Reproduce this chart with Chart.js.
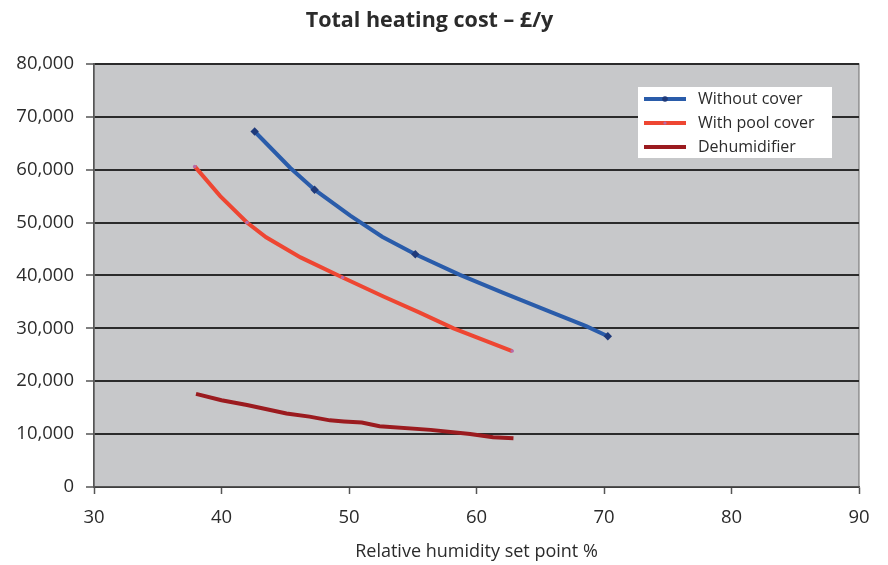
<!DOCTYPE html>
<html>
<head>
<meta charset="utf-8">
<script src="https://cdn.jsdelivr.net/npm/chart.js@4.4.1/dist/chart.umd.min.js"></script>
<style>
  html, body { margin: 0; padding: 0; background: #fff; }
  #wrap { width: 888px; height: 565px; }
</style>
</head>
<body>
<div id="wrap"><canvas id="heatChart" width="888" height="565"></canvas></div>
<script>
// Relative humidity set point % (x) and total heating cost £/y (y)
const withoutCoverX = [42.6, 45.4, 47.3, 50.1, 52.6, 55.2, 58.7, 62.1, 65.8, 68.6, 70.3];
const withoutCoverY = [67200, 60300, 56200, 51300, 47300, 44000, 40100, 36700, 33100, 30400, 28500];

const poolCoverX = [37.9, 39.9, 42.0, 43.5, 46.2, 49.5, 52.7, 55.5, 58.2, 62.8];
const poolCoverY = [60600, 55000, 50000, 47200, 43400, 39600, 36000, 33000, 30000, 25700];

const dehumX = [38.0, 40.0, 42.0, 45.1, 46.9, 48.5, 49.6, 51.0, 52.4, 56.4, 59.5, 61.3, 62.9];
const dehumY = [17600, 16400, 15500, 13900, 13300, 12600, 12400, 12200, 11500, 10800, 10000, 9400, 9200];

const seriesNames = ['Without cover', 'With pool cover', 'Dehumidifier'];
const xTicks = [30, 40, 50, 60, 70, 80, 90];
const yTicks = [0, 10000, 20000, 30000, 40000, 50000, 60000, 70000, 80000];

const FONT = "'Open Sans', 'Noto Sans', sans-serif";

function toPoints(xs, ys) {
    return xs.map((x, i) => ({ x: x, y: ys[i] }));
}

// markers only show on a few of the points, like the original
function markAt(indexes, r) {
    return ctx => indexes.includes(ctx.dataIndex) ? r : 0;
}

// grey plot background + frame
const plotBackground = {
    id: 'plotBackground',
    beforeDraw(chart) {
        const { ctx, chartArea: a } = chart;
        ctx.save();
        ctx.fillStyle = '#c7c8ca';
        ctx.fillRect(a.left, a.top, a.right - a.left, a.bottom - a.top);
        ctx.strokeStyle = '#6a6a6a';
        ctx.lineWidth = 1;
        ctx.strokeRect(a.left, a.top, a.right - a.left, a.bottom - a.top);
        ctx.restore();
    }
};

// legend box inside the plot, top right
const boxLegend = {
    id: 'boxLegend',
    afterDraw(chart) {
        const { ctx } = chart;
        const left = 638, top = 87, w = 194, h = 71;
        ctx.save();
        ctx.fillStyle = '#ffffff';
        ctx.fillRect(left, top, w, h);
        chart.data.datasets.forEach((ds, i) => {
            const y = top + 12 + i * 24;
            ctx.strokeStyle = ds.borderColor;
            ctx.lineWidth = 4;
            ctx.beginPath();
            ctx.moveTo(left + 6, y);
            ctx.lineTo(left + 48, y);
            ctx.stroke();
            if (ds.legendDot) {
                ctx.fillStyle = ds.legendDot;
                ctx.beginPath();
                ctx.arc(left + 27, y, i === 0 ? 2.8 : 1.6, 0, Math.PI * 2);
                ctx.fill();
            }
            ctx.fillStyle = '#2b2b2b';
            ctx.font = '16px ' + FONT;
            ctx.textBaseline = 'middle';
            ctx.fillText(ds.label, left + 60, y);
        });
        ctx.restore();
    }
};

new Chart(document.getElementById('heatChart').getContext('2d'), {
    type: 'line',
    data: {
        datasets: [{
            label: seriesNames[0],
            data: toPoints(withoutCoverX, withoutCoverY),
            borderColor: '#2a5caa',
            borderWidth: 4,
            pointRadius: markAt([0, 2, 5, 10], 4.2),
            pointStyle: 'rectRot',
            pointBackgroundColor: '#1f3a7a',
            pointBorderColor: '#1f3a7a',
            pointBorderWidth: 0,
            legendDot: '#1f3a7a',
            tension: 0
        }, {
            label: seriesNames[1],
            data: toPoints(poolCoverX, poolCoverY),
            borderColor: '#ee4632',
            borderWidth: 4,
            pointRadius: markAt([0, 2, 5, 9], 1.8),
            pointBackgroundColor: '#b86aa8',
            pointBorderWidth: 0,
            legendDot: '#b86aa8',
            tension: 0
        }, {
            label: seriesNames[2],
            data: toPoints(dehumX, dehumY),
            borderColor: '#9b1b1f',
            borderWidth: 4,
            pointRadius: 0,
            tension: 0
        }]
    },
    options: {
        responsive: false,
        animation: false,
        layout: { padding: { left: 0, right: 29, top: 0, bottom: 0 } },
        plugins: {
            legend: { display: false },
            tooltip: { enabled: false },
            title: {
                display: true,
                text: 'Total heating cost – £/y',
                color: '#2b2b2b',
                font: { family: FONT, size: 21.5, weight: 'bold' },
                padding: { top: 8, bottom: 30 }
            }
        },
        scales: {
            x: {
                type: 'linear',
                min: 30,
                max: 90,
                afterBuildTicks: axis => { axis.ticks = xTicks.map(v => ({ value: v })); },
                afterFit: axis => { axis.height = 78; },
                grid: {
                    drawOnChartArea: false,
                    drawTicks: true,
                    tickLength: 7,
                    tickColor: '#555',
                    tickWidth: 1.5
                },
                border: { color: '#555', width: 1.5 },
                ticks: {
                    color: '#2b2b2b',
                    padding: 13,
                    maxRotation: 0,
                    font: { family: FONT, size: 18.5 }
                },
                title: {
                    display: true,
                    text: 'Relative humidity set point %',
                    color: '#2b2b2b',
                    font: { family: FONT, size: 18 },
                    padding: { top: 4, bottom: 2 }
                }
            },
            y: {
                min: 0,
                max: 80000,
                afterBuildTicks: axis => { axis.ticks = yTicks.map(v => ({ value: v })); },
                afterFit: axis => { axis.width = 94; },
                grid: {
                    color: '#2b2b2b',
                    lineWidth: 2,
                    tickLength: 8,
                    tickColor: '#555',
                    tickWidth: 1.5
                },
                border: { color: '#555', width: 1.5 },
                ticks: {
                    color: '#2b2b2b',
                    padding: 12,
                    font: { family: FONT, size: 18.5 },
                    callback: v => v.toLocaleString('en-US')
                }
            }
        }
    },
    plugins: [plotBackground, boxLegend]
});
</script>
</body>
</html>
